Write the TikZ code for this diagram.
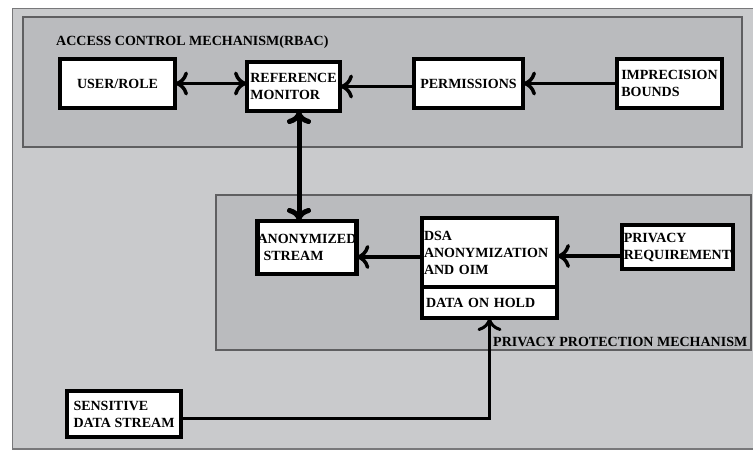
\documentclass[tikz,border=0pt]{standalone}
\usepackage{fontspec}
\setmainfont{Liberation Serif}
\usetikzlibrary{arrows.meta}
\definecolor{outerfill}{RGB}{201,202,204}
\definecolor{innerfill}{RGB}{186,187,190}
\definecolor{framegray}{RGB}{120,120,122}
\definecolor{framedark}{RGB}{95,95,97}
\begin{document}
\begin{tikzpicture}[x=1pt,y=-1pt,
  lab/.style={font=\bfseries\fontsize{14}{17}\selectfont, inner sep=0pt, anchor=west},
  box/.style={draw=black, fill=white, line width=4.5pt, outer sep=0pt, inner ysep=2pt, inner xsep=2pt, align=left, font=\bfseries\fontsize{14}{17}\selectfont},
  conn/.style={line width=3.5pt, draw=black},
  >={Computer Modern Rightarrow[length=13pt,width=24pt]}]
\useasboundingbox (0,0) rectangle (753,451);
\clip (0,0) rectangle (753,451);
% frames
\draw[draw=framegray, fill=outerfill, line width=1.5pt] (12.5,8.5) rectangle (762,449);
\draw[draw=framedark, fill=innerfill, line width=1.5pt] (23,17) rectangle (742,147);
\draw[draw=framedark, fill=innerfill, line width=1.5pt] (216,195) rectangle (751,350);
% titles
\node[lab] (t1) at (56,42) {ACCESS CONTROL MECHANISM(RBAC)};
\node[lab] (t2) at (493,342) {PRIVACY PROTECTION MECHANISM};
% boxes
\node[box, minimum width=115pt, minimum height=49pt] (user) at (117.5,83.5) {USER/ROLE};
\node[box, minimum width=93pt, minimum height=49pt, inner xsep=1pt] (ref) at (293.5,86.5) {REFERENCE\\MONITOR};
\node[box, minimum width=109pt, minimum height=49pt] (perm) at (468.5,83.5) {PERMISSIONS};
\node[box, minimum width=105pt, minimum height=49pt, inner xsep=0pt] (imp) at (669.5,83.5) {IMPRECISION\\BOUNDS};
\node[box, minimum width=98pt, minimum height=53pt, inner xsep=0pt] (anon) at (307,247.5) {ANONYMIZED\\\hspace*{6pt}STREAM};
\node[box, minimum width=135pt, minimum height=69pt, text width=131pt, inner xsep=2pt] (dsa) at (489.5,252.5) {DSA\\ANONYMIZATION\\AND OIM};
\node[box, minimum width=135pt, minimum height=31pt, text width=127pt, inner xsep=4pt] (hold) at (489.5,302.5) {DATA ON HOLD};
\node[box, minimum width=111pt, minimum height=44pt, inner xsep=0pt] (req) at (677.5,247) {PRIVACY\\REQUIREMENT};
\node[box, minimum width=114pt, minimum height=46pt] (sens) at (124,414) {SENSITIVE\\DATA STREAM};
% connectors
\draw[conn,<->] (user.east) -- (user.east -| ref.west);
\draw[conn,->] (perm.west |- ref.east) -- (ref.east);
\draw[conn,->] (imp.west) -- (perm.east);
\draw[conn,<->,line width=5pt] ([xshift=5.5pt]ref.south) -- ([xshift=5.5pt]ref.south |- anon.north);
\draw[conn,->] ([yshift=-4.5pt]dsa.west) -- ([yshift=-4.5pt]dsa.west -| anon.east);
\draw[conn,->] ([yshift=-9pt]req.west) -- ([yshift=-9pt]req.west -| dsa.east);
\draw[conn,->,line width=3pt] ([yshift=-4pt]sens.east) -| (hold.south);
\end{tikzpicture}
\end{document}
